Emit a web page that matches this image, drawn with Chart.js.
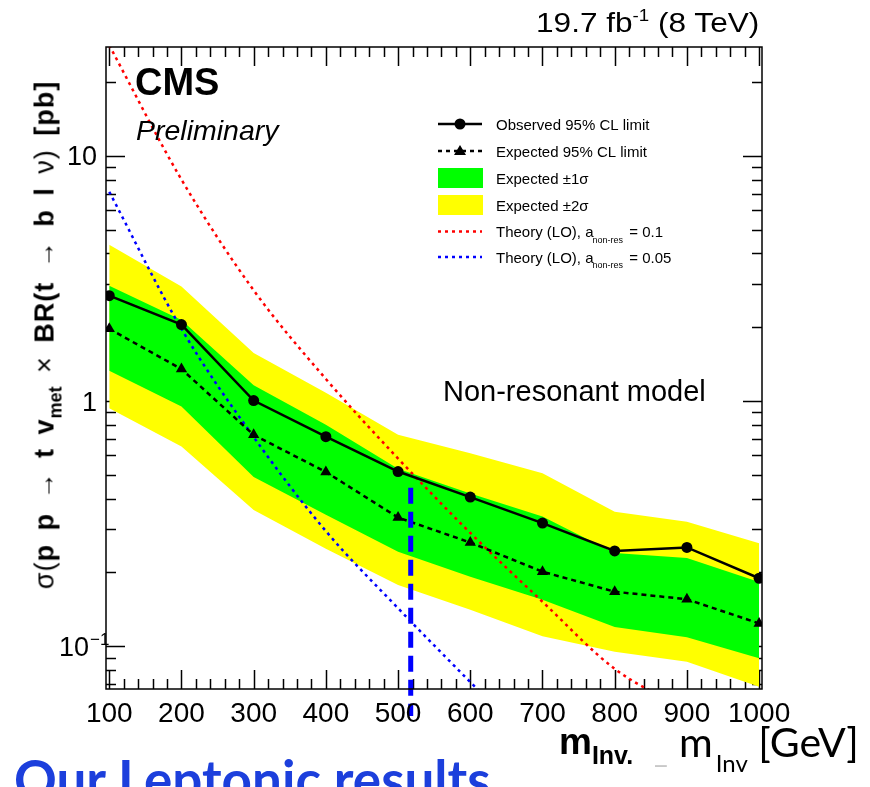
<!DOCTYPE html>
<html><head><meta charset="utf-8">
<script src="https://cdn.jsdelivr.net/npm/chart.js@4.4.1/dist/chart.umd.min.js"></script>
<style>
html,body{margin:0;padding:0;background:#fff;}
#wrap{position:relative;width:870px;height:787px;overflow:hidden;background:#fff;}
#c{position:absolute;left:0;top:0;}
.t{position:absolute;white-space:nowrap;line-height:1;font-family:'Liberation Sans',Arial,sans-serif;color:#000;}
.up{position:relative;}
.lato{font-family:Lato,'Liberation Sans',sans-serif;}
</style></head><body>
<div id="wrap">
<canvas id="c" width="870" height="787"></canvas>
<div class="t" style="left:536px;top:10px;font-size:27px;transform-origin:0 0;transform:scaleX(1.17)">19.7 fb<span class="up" style="font-size:16px;top:-11px">-1</span> (8 TeV)</div>
<div class="t" style="left:135px;top:63px;font-size:38px;font-weight:bold">CMS</div>
<div class="t" style="left:136px;top:116px;font-size:28.5px;font-style:italic">Preliminary</div>
<div class="t" style="left:443px;top:377px;font-size:29px">Non-resonant model</div>
<div class="t" style="left:45px;top:335px;font-size:27px;letter-spacing:1px;word-spacing:5px;transform:translate(-50%,-50%) rotate(-90deg);">σ(<b>p p</b> → <b>t v</b><b class="up" style="font-size:18px;top:8px;letter-spacing:0">met</b> × <b>BR(t</b> → <b>b l</b> ν) <b>[pb]</b></div>
<div class="t" style="left:559px;top:723px;font-size:37px;font-weight:bold">m<span class="up" style="font-size:25px;top:10px">Inv.</span></div>
<div class="t lato" style="left:654px;top:736px;font-size:30px;color:#c8c8c8">_</div>
<div class="t lato" style="left:679px;top:721px;font-size:41px">m<span class="up" style="font-size:24px;top:15px;margin-left:3px">Inv</span> [GeV]</div>
<div class="t lato" style="left:14px;top:752px;font-size:53px;font-weight:bold;color:#1c3fdc">Our Leptonic results</div>
</div>
<script>
// ---- data ----
const massPoints = [100, 200, 300, 400, 500, 600, 700, 800, 900, 1000];
const observedLimit = [2.69, 2.05, 1.005, 0.716, 0.516, 0.406, 0.318, 0.245, 0.253, 0.1895];
const expectedLimit = [1.97, 1.35, 0.728, 0.514, 0.335, 0.265, 0.2015, 0.167, 0.1556, 0.124];
const oneSigmaUp   = [2.95, 2.14, 1.16, 0.80, 0.53, 0.42, 0.338, 0.24, 0.229, 0.183];
const oneSigmaDown = [1.33, 0.95, 0.49, 0.344, 0.243, 0.192, 0.155, 0.12, 0.109, 0.0894];
const twoSigmaUp   = [4.34, 2.93, 1.57, 1.08, 0.728, 0.613, 0.508, 0.354, 0.322, 0.263];
const twoSigmaDown = [0.935, 0.652, 0.36, 0.25, 0.178, 0.141, 0.11, 0.095, 0.0866, 0.0685];
const theoryMass010 = [100, 200, 300, 400, 500, 600, 700, 800, 900];
const theoryA010 = [28.2, 8.0, 2.83, 1.23, 0.583, 0.29, 0.152, 0.081, 0.055];
const theoryMass005 = [100, 200, 300, 400, 500, 600, 700];
const theoryA005 = [7.13, 1.97, 0.713, 0.295, 0.143, 0.0715, 0.036];
const markerMass = [517.5, 517.5];
const markerSigma = [0.443, 0.052];
const xTickLabels = ['100','200','300','400','500','600','700','800','900','1000'];
const yTickValues = [0.1, 1, 10];
const legendLabels = ['Observed 95% CL limit','Expected 95% CL limit','Expected \u00b11\u03c3','Expected \u00b12\u03c3','Theory (LO), a','Theory (LO), a'];

const pts = (xs, ys) => xs.map((x, i) => ({x, y: ys[i]}));
const FONT = "'Liberation Sans', Arial, sans-serif";

const rootAxes = {
  id: 'rootAxes',
  beforeDatasetsDraw(chart) {
    const {ctx, chartArea: a, scales: {x, y}} = chart;
    ctx.save();
    ctx.strokeStyle = '#000'; ctx.lineWidth = 1.5;
    ctx.beginPath();
    for (let v = 100; v <= 1000; v += 20) {
      const px = Math.round(x.getPixelForValue(v)) + 0.5;
      const len = (v % 100 === 0) ? 19 : 10;
      ctx.moveTo(px, a.bottom); ctx.lineTo(px, a.bottom - len);
      ctx.moveTo(px, a.top); ctx.lineTo(px, a.top + len);
    }
    for (let e = -2; e <= 1; e++) {
      for (let k = 1; k <= 9; k++) {
        const v = k * Math.pow(10, e);
        if (v < y.min || v > y.max) continue;
        const py = Math.round(y.getPixelForValue(v)) + 0.5;
        const len = (k === 1) ? 19 : 10;
        ctx.moveTo(a.left, py); ctx.lineTo(a.left + len, py);
        ctx.moveTo(a.right, py); ctx.lineTo(a.right - len, py);
      }
    }
    ctx.stroke();
    ctx.restore();
  },
  afterDraw(chart) {
    const {ctx, chartArea: a, scales: {x, y}} = chart;
    ctx.save();
    ctx.strokeStyle = '#000'; ctx.lineWidth = 1.5;
    ctx.strokeRect(a.left, a.top, a.right - a.left, a.bottom - a.top);
    // x tick labels
    ctx.fillStyle = '#000';
    ctx.font = '28px ' + FONT;
    ctx.textAlign = 'center'; ctx.textBaseline = 'alphabetic';
    massPoints.forEach((m, i) => ctx.fillText(xTickLabels[i], x.getPixelForValue(m), 722));
    // the last two labels are cut at the top in the reference
    ctx.fillStyle = '#fff';
    ctx.fillRect(x.getPixelForValue(855), a.bottom + 1.5, x.getPixelForValue(1004) - x.getPixelForValue(855) + 40, 12.5);
    ctx.fillStyle = '#000';
    // y tick labels
    yTickValues.forEach(v => {
      const py = y.getPixelForValue(v) + 9.5;
      if (v === 0.1) {
        ctx.font = '27px ' + FONT; ctx.textAlign = 'right';
        ctx.fillText('10', 89, py);
        ctx.font = '17px ' + FONT; ctx.textAlign = 'left';
        ctx.fillText('\u22121', 90, py - 11);
      } else {
        ctx.font = '27px ' + FONT; ctx.textAlign = 'right';
        ctx.fillText(String(v), 97, py);
      }
    });
    // legend
    const lx0 = 438, lx1 = 482, tx = 496;
    const rows = [124, 151, 178, 205, 231.5, 257];
    ctx.font = '15px ' + FONT; ctx.textAlign = 'left';
    rows.forEach((ry, i) => {
      ctx.fillStyle = '#000';
      ctx.fillText(legendLabels[i], tx, ry + 5.5);
    });
    [[4, '= 0.1'], [5, '= 0.05']].forEach(([i, val]) => {
      const w = ctx.measureText(legendLabels[i]).width;
      ctx.font = '9px ' + FONT;
      ctx.fillText('non-res', tx + w - 1, rows[i] + 11);
      const w2 = ctx.measureText('non-res').width;
      ctx.font = '15px ' + FONT;
      ctx.fillText(' ' + val, tx + w + 1 + w2, rows[i] + 5.5);
    });
    ctx.lineWidth = 2.5; ctx.strokeStyle = '#000';
    ctx.beginPath(); ctx.moveTo(lx0, rows[0]); ctx.lineTo(lx1, rows[0]); ctx.stroke();
    ctx.beginPath(); ctx.arc(460, rows[0], 5.5, 0, Math.PI * 2); ctx.fillStyle = '#000'; ctx.fill();
    ctx.setLineDash([4, 4]);
    ctx.beginPath(); ctx.moveTo(lx0, rows[1]); ctx.lineTo(lx1, rows[1]); ctx.stroke();
    ctx.setLineDash([]);
    ctx.beginPath(); ctx.moveTo(460, rows[1] - 6); ctx.lineTo(466, rows[1] + 4); ctx.lineTo(454, rows[1] + 4); ctx.closePath(); ctx.fill();
    ctx.fillStyle = '#00ff00'; ctx.fillRect(lx0, rows[2] - 10, 45, 20);
    ctx.fillStyle = '#ffff00'; ctx.fillRect(lx0, rows[3] - 10, 45, 20);
    ctx.setLineDash([3, 4]);
    ctx.strokeStyle = '#ff0000';
    ctx.beginPath(); ctx.moveTo(lx0, rows[4]); ctx.lineTo(lx1, rows[4]); ctx.stroke();
    ctx.strokeStyle = '#0000ff';
    ctx.beginPath(); ctx.moveTo(lx0, rows[5]); ctx.lineTo(lx1, rows[5]); ctx.stroke();
    ctx.restore();
  }
};

new Chart(document.getElementById('c'), {
  type: 'line',
  data: {
    datasets: [
      {label: 'Observed 95% CL limit', data: pts(massPoints, observedLimit), borderColor: '#000', backgroundColor: '#000',
       borderWidth: 2.5, pointRadius: 5.5, pointStyle: 'circle', pointBorderWidth: 0, order: 0},
      {label: 'Expected 95% CL limit', data: pts(massPoints, expectedLimit), borderColor: '#000', backgroundColor: '#000',
       borderWidth: 2.5, borderDash: [5, 4], pointRadius: 6.5, pointStyle: 'triangle', pointBorderWidth: 0, order: 1},
      {label: 'marker', data: pts(markerMass, markerSigma), borderColor: '#0000ff', borderWidth: 5, borderDash: [16, 8],
       pointRadius: 0, clip: false, order: -1},
      {label: 'Theory a=0.1', data: pts(theoryMass010, theoryA010), borderColor: '#ff0000', borderWidth: 2.5, borderDash: [3, 4],
       pointRadius: 0, cubicInterpolationMode: 'monotone', order: 2},
      {label: 'Theory a=0.05', data: pts(theoryMass005, theoryA005), borderColor: '#0000ff', borderWidth: 2.5, borderDash: [3, 4],
       pointRadius: 0, cubicInterpolationMode: 'monotone', order: 3},
      {label: '+1s', data: pts(massPoints, oneSigmaUp), borderColor: 'rgba(0,0,0,0)', borderWidth: 0, backgroundColor: '#00ff00',
       pointRadius: 0, fill: 6, order: 5},
      {label: '-1s', data: pts(massPoints, oneSigmaDown), borderColor: 'rgba(0,0,0,0)', borderWidth: 0, pointRadius: 0, fill: false, order: 6},
      {label: '+2s', data: pts(massPoints, twoSigmaUp), borderColor: 'rgba(0,0,0,0)', borderWidth: 0, backgroundColor: '#ffff00',
       pointRadius: 0, fill: 8, order: 7},
      {label: '-2s', data: pts(massPoints, twoSigmaDown), borderColor: 'rgba(0,0,0,0)', borderWidth: 0, pointRadius: 0, fill: false, order: 8}
    ]
  },
  options: {
    responsive: false, animation: false, devicePixelRatio: 1,
    layout: {padding: {left: 106, top: 47, right: 108, bottom: 98}},
    plugins: {legend: {display: false}, tooltip: {enabled: false}},
    elements: {line: {tension: 0}},
    scales: {
      x: {type: 'linear', min: 95.5, max: 1004, display: false},
      y: {type: 'logarithmic', min: 0.067, max: 27.76, display: false}
    }
  },
  plugins: [rootAxes]
});
</script>
</body></html>
